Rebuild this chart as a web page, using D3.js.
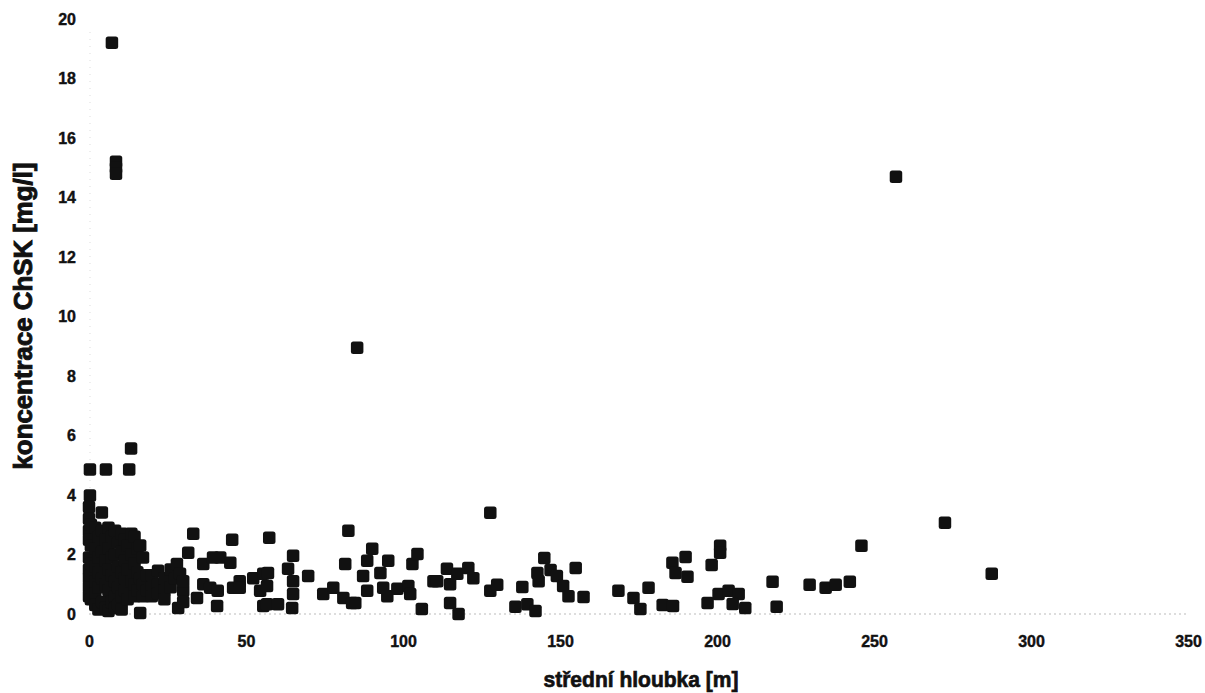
<!DOCTYPE html>
<html>
<head>
<meta charset="utf-8">
<script src="https://cdn.jsdelivr.net/npm/d3@7"></script>
<style>
  body { margin: 0; background: #fff; }
  text { font-family: "Liberation Sans", Arial, sans-serif; font-weight: bold; fill: #111; }
</style>
</head>
<body>
<svg id="chart" width="1205" height="693"></svg>
<script>
// střední hloubka [m]
const depth = [
  7.3, 8.6, 8.6, 8.6, 257, 85.4,
  0.3, 5.4, 12.8, 13.4, 0.3, 4.1, 127.8, 272.6, 287.5, 246,
  0, 0, 0, 0, 0, 0, 0, 0, 0,
  0.6, 0.6, 0.6, 0.6, 0.6,
  2, 2, 2, 2, 2, 2,
  3, 3, 3, 3, 3,
  4.2, 4.2, 4.2, 4.2,
  5.2, 5.2, 5.2, 5.2,
  6.2, 6.2, 6.2, 6.2, 6.2,
  7.2, 7.2, 7.2, 7.2,
  8.3, 8.3, 8.3, 8.3, 8.3,
  9.3, 9.3, 9.3, 9.3,
  10.4, 10.4, 10.4, 10.4, 10.4,
  11.4, 11.4, 11.4, 11.4,
  12.3, 12.3, 12.3,
  13.5, 13.5, 13.5,
  14.5, 14.5, 14.5, 14.5,
  15.4, 15.4, 15.4,
  16.3, 16.3, 16.3,
  17.2, 17.2, 17.2,
  18.5, 18.5,
  20, 20, 20,
  22, 22, 22,
  24, 24, 24,
  26, 26,
  27.4, 28, 28.4, 29, 30, 30, 30,
  31.6, 33.2, 34.4, 36.4, 36.4, 38.6, 39.5, 40.8, 41, 41.8, 45, 45.6, 45.9, 48, 48,
  52.3, 54.5, 55.5, 55.5, 56.7, 56.7, 57.4, 57, 60.2, 63.4, 64.7, 65, 65, 65, 69.8,
  74.6, 77.8, 81, 81.6, 82.6, 83.8, 84.8, 87.3, 88.6, 88.6, 90.2, 92.8, 93.7, 95.3, 95,
  98.2, 101.7, 102.3, 103, 104.6, 106, 109.7, 110.9, 114, 115, 115, 117.3, 117.7, 120.8, 122.4,
  127.8, 130, 135.8, 138, 139.6, 142.2, 142.8, 143.2, 145, 147, 149, 151, 152.7, 155, 157.5,
  168.6, 173.4, 175.6, 178.2, 182.7, 186, 185.8, 186.8, 190, 190.6, 198.3, 201, 201, 197, 200.5,
  203.7, 206.9, 205, 209, 217.7, 219, 229.5, 234.6, 237.8, 242.3
];

// koncentrace ChSK [mg/l]
const chsk = [
  19.2, 15.2, 15.0, 14.8, 14.7, 8.95,
  4.86, 4.86, 4.86, 5.56, 3.98, 3.41, 3.4, 3.07, 1.35, 2.29,
  3.6, 3.2, 2.8, 2.5, 1.9, 1.5, 1.2, 0.9, 0.6,
  3.0, 2.3, 1.7, 1.3, 0.5,
  2.9, 2.2, 1.6, 1.1, 0.7, 0.3,
  2.6, 1.9, 1.4, 0.9, 0.15,
  2.8, 2.1, 1.2, 0.4,
  2.5, 1.8, 1.0, 0.2,
  2.9, 2.2, 1.5, 0.8, 0.1,
  2.6, 1.9, 1.3, 0.4,
  2.8, 2.0, 1.1, 0.6, 0.2,
  2.4, 1.6, 0.9, 0.3,
  2.7, 2.1, 1.4, 0.6, 0.15,
  2.5, 1.8, 1.2, 0.8,
  2.3, 1.5, 0.5,
  2.7, 2.0, 1.1,
  2.6, 1.7, 1.0, 0.6,
  2.2, 1.4, 0.8,
  2.3, 1.2, 0.03,
  1.9, 1.0, 0.6,
  1.3, 0.8,
  1.3, 0.9, 0.6,
  1.45, 1.0, 0.7,
  1.2, 0.8, 0.5,
  1.5, 0.9,
  1.2, 1.68, 0.2, 1.35, 0.78, 1.1, 0.4,
  2.06, 2.7, 0.54, 1.68, 1.0, 0.88, 1.9, 0.27, 0.78, 1.9, 1.72, 2.5, 0.88, 1.1, 0.88,
  1.2, 0.78, 1.35, 0.27, 0.94, 0.33, 2.56, 1.38, 0.33, 1.52, 0.2, 1.96, 1.1, 0.67, 1.28,
  0.67, 0.88, 0.54, 1.68, 2.8, 0.37, 0.37, 1.28, 1.79, 0.78, 2.19, 1.38, 0.88, 1.79, 0.6,
  0.85, 0.94, 0.67, 1.68, 2.02, 0.17, 1.1, 1.1, 1.52, 1.0, 0.37, 1.35, 0.0, 1.55, 1.2,
  0.78, 0.98, 0.24, 0.91, 0.33, 0.1, 1.38, 1.1, 1.88, 1.48, 1.28, 0.94, 0.6, 1.55, 0.57,
  0.78, 0.54, 0.17, 0.88, 0.3, 0.27, 1.72, 1.38, 1.92, 1.25, 1.65, 2.29, 2.06, 0.37, 0.67,
  0.78, 0.67, 0.34, 0.2, 1.08, 0.24, 0.98, 0.88, 0.98, 1.08
];

const xTicks = [0, 50, 100, 150, 200, 250, 300, 350];
const yTicks = [0, 2, 4, 6, 8, 10, 12, 14, 16, 18, 20];

const xTitle = "střední hloubka [m]";
const yTitle = "koncentrace ChSK [mg/l]";

const svg = d3.select("#chart");
const margin = { top: 19, right: 17, bottom: 79, left: 89 };
const width = 1205;
const height = 693;

const x = d3.scaleLinear().domain([0, 350]).range([margin.left, width - margin.right]);
const y = d3.scaleLinear().domain([0, 20]).range([height - margin.bottom, margin.top]);

// faint dotted axis lines
svg.append("line")
  .attr("x1", x(0)).attr("x2", x(350))
  .attr("y1", y(0)).attr("y2", y(0))
  .attr("stroke", "#bbb").attr("stroke-dasharray", "2,3");

svg.append("line")
  .attr("x1", x(0) + 1).attr("x2", x(0) + 1)
  .attr("y1", y(0)).attr("y2", y(20) + 10)
  .attr("stroke", "#ddd").attr("stroke-dasharray", "1,6");

const xAxis = d3.axisBottom(x).tickValues(xTicks).tickSize(0).tickPadding(22);
const gx = svg.append("g")
  .attr("transform", `translate(0,${y(0)})`)
  .call(xAxis);
gx.select(".domain").remove();
gx.selectAll("text")
  .style("font-size", "16px")
  .attr("fill", "#111")
  .attr("stroke", "#111")
  .attr("stroke-width", 0.4);

const yAxis = d3.axisLeft(y).tickValues(yTicks).tickSize(0).tickPadding(13);
const gy = svg.append("g")
  .attr("transform", `translate(${x(0)},0)`)
  .call(yAxis);
gy.select(".domain").remove();
gy.selectAll("text")
  .style("font-size", "16px")
  .attr("fill", "#111")
  .attr("stroke", "#111")
  .attr("stroke-width", 0.4);

const points = depth.map((d, i) => ({ depth: d, chsk: chsk[i] }));
const s = 12.5;

svg.append("g")
  .selectAll("rect")
  .data(points)
  .enter()
  .append("rect")
  .attr("x", (d) => x(d.depth) - s / 2)
  .attr("y", (d) => y(d.chsk) - s / 2)
  .attr("width", s)
  .attr("height", s)
  .attr("rx", 2.5)
  .attr("fill", "#111");

svg.append("text")
  .attr("x", 641)
  .attr("y", 687)
  .attr("text-anchor", "middle")
  .style("font-size", "22px")
  .attr("stroke", "#111")
  .attr("stroke-width", 0.7)
  .attr("textLength", 195)
  .attr("lengthAdjust", "spacingAndGlyphs")
  .text(xTitle);

svg.append("text")
  .attr("transform", `translate(32,${316}) rotate(-90)`)
  .attr("text-anchor", "middle")
  .style("font-size", "25px")
  .attr("stroke", "#111")
  .attr("stroke-width", 0.9)
  .attr("textLength", 307)
  .attr("lengthAdjust", "spacingAndGlyphs")
  .text(yTitle);
</script>
</body>
</html>
